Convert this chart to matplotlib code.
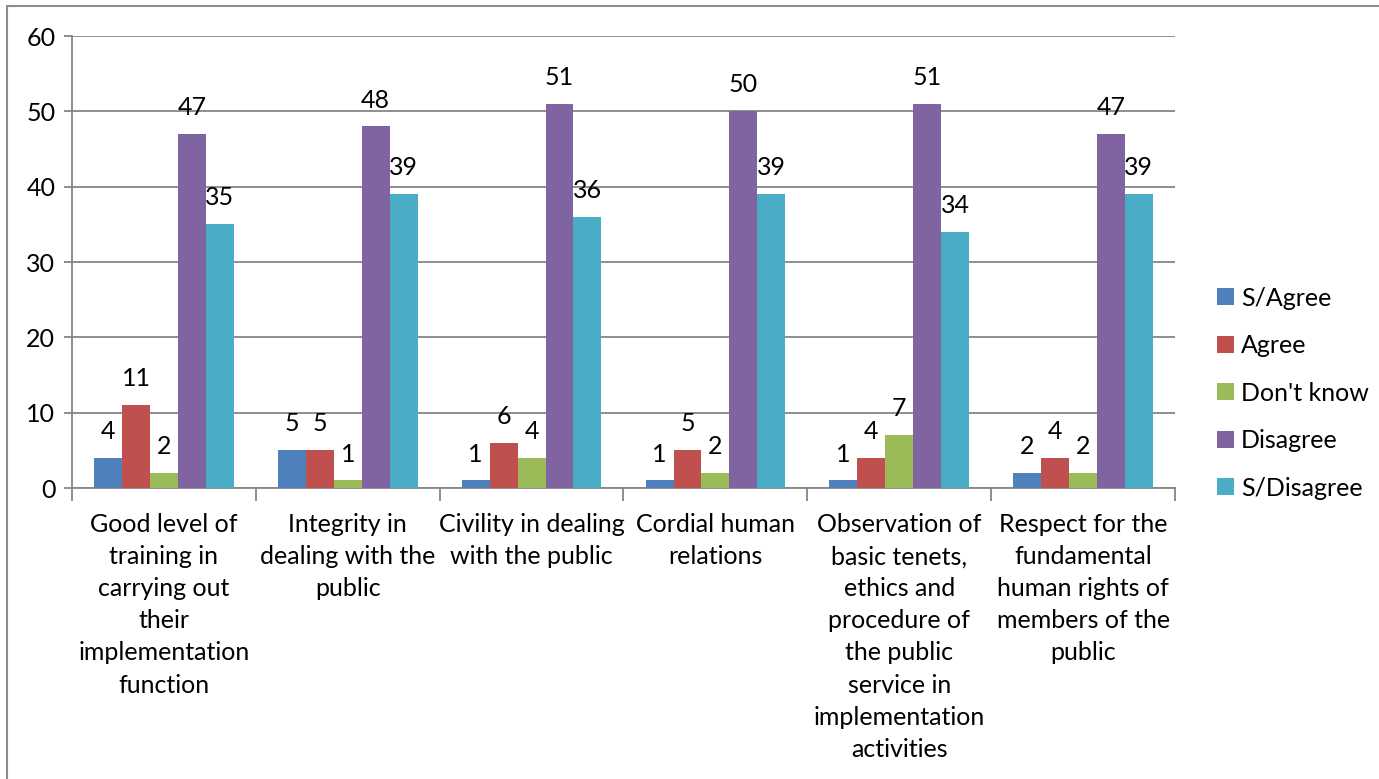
import matplotlib
matplotlib.use("Agg")
import matplotlib.pyplot as plt
from matplotlib.patches import Rectangle
import numpy as np

categories = [
    "Good level of\ntraining in\ncarrying out\ntheir\nimplementation\nfunction",
    "Integrity in\ndealing with the\npublic",
    "Civility in dealing\nwith the public",
    "Cordial human\nrelations",
    "Observation of\nbasic tenets,\nethics and\nprocedure of\nthe public\nservice in\nimplementation\nactivities",
    "Respect for the\nfundamental\nhuman rights of\nmembers of the\npublic",
]
series_names = ["S/Agree", "Agree", "Don't know", "Disagree", "S/Disagree"]
s_agree = [4, 5, 1, 1, 1, 2]
agree = [11, 5, 6, 5, 4, 4]
dont_know = [2, 1, 4, 2, 7, 2]
disagree = [47, 48, 51, 50, 51, 47]
s_disagree = [35, 39, 36, 39, 34, 39]
yticks = [0, 10, 20, 30, 40, 50, 60]

colors = ["#4F81BD", "#C0504D", "#9BBB59", "#8064A2", "#4BACC6"]
series = [s_agree, agree, dont_know, disagree, s_disagree]

plt.rcParams["font.family"] = ["Lato", "DejaVu Sans"]
FS = 18
W, H = 1379, 779
fig = plt.figure(figsize=(W / 100, H / 100), dpi=100)
ax = fig.add_axes([72 / W, 1 - 488 / H, (1175 - 72) / W, (488 - 36) / H])

# outer chart border
fig.patches.append(Rectangle((7 / W, -0.01), 1.0, 1 - 6 / H + 0.01,
                             transform=fig.transFigure, fill=False,
                             edgecolor="#8C8C8C", linewidth=1.5))

n = len(categories)
x = np.arange(n)
bw = 0.152
offsets = (np.arange(5) - 2) * bw
for i, (vals, col, name) in enumerate(zip(series, colors, series_names)):
    bars = ax.bar(x + offsets[i], vals, width=bw, color=col, label=name, zorder=3)
    for b, v in zip(bars, vals):
        ax.annotate(str(v), (b.get_x() + b.get_width() / 2, v),
                    xytext=(0, 19), textcoords="offset points",
                    ha="center", va="center", fontsize=FS, color="black")

ax.set_xlim(-0.5, n - 0.5)
ax.set_ylim(0, 60)
ax.set_yticks(yticks)
ax.yaxis.grid(True, color="#868686", linewidth=1.3, zorder=0)
ax.set_axisbelow(True)
ax.tick_params(axis="y", length=6, width=1.3, color="#868686", labelsize=FS, pad=6)

ax.set_xticks(x)
ax.set_xticklabels(categories, fontsize=FS, linespacing=1.48, va="top")
ax.set_xticks(np.arange(n + 1) - 0.5, minor=True)
ax.tick_params(axis="x", which="major", length=0, pad=18)
ax.tick_params(axis="x", which="minor", length=9, width=1.3, color="#868686")

for s in ["top", "right"]:
    ax.spines[s].set_visible(False)
for s in ["left", "bottom"]:
    ax.spines[s].set_color("#868686")
    ax.spines[s].set_linewidth(1.3)

leg = ax.legend(loc="center left", bbox_to_anchor=(1.018, 0.21), frameon=False,
                fontsize=FS, handlelength=0.65, handleheight=0.65,
                handletextpad=0.3, labelspacing=0.98)

fig.savefig("out.png", dpi=100)
